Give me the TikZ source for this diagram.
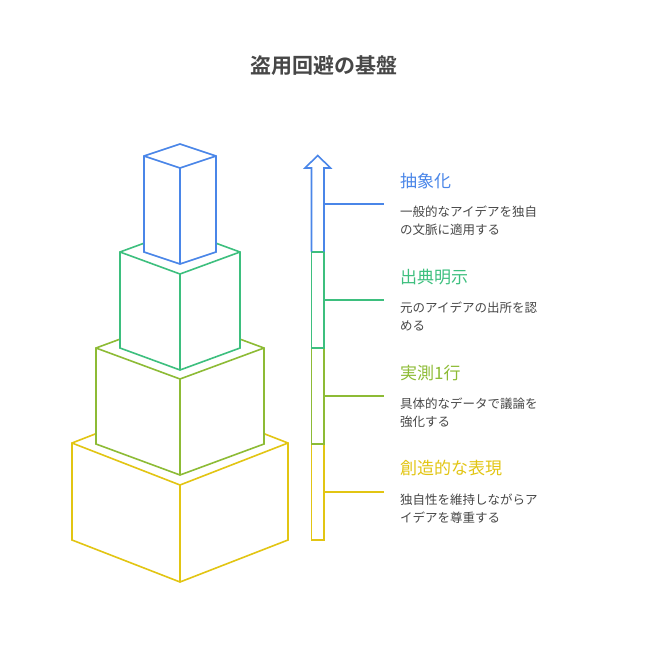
\documentclass[tikz,border=0pt]{standalone}
\usepackage{fontspec}
\setmainfont{Noto Sans CJK JP}[BoldFont={Noto Sans CJK JP Bold}]
\begin{document}
\begin{tikzpicture}[x=1pt,y=-1pt,line width=1.6pt,line join=miter,
  ttl/.style={anchor=west,font=\fontsize{17}{20}\selectfont},
  dsc/.style={anchor=north west,font=\fontsize{12.5}{18}\selectfont,text=black!72,align=left}]
\definecolor{cb}{HTML}{4A86E8}
\definecolor{cg}{HTML}{3DBF7E}
\definecolor{co}{HTML}{8DBB35}
\definecolor{cy}{HTML}{E2C513}
\useasboundingbox (0,0) rectangle (648,672);
\node[font=\bfseries\fontsize{21}{24}\selectfont,text=black!72] (title) at (324,66) {盗用回避の基盤};
% box macro via style-less drawing
\newcommand\isobox[5]{% color, halfwidth, depth, ytopleft, height
  \pgfmathsetmacro\xl{180-#2}\pgfmathsetmacro\xr{180+#2}
  \pgfmathsetmacro\yb{#4-#3}\pgfmathsetmacro\yf{#4+#3}
  \pgfmathsetmacro\ylb{#4+#5}\pgfmathsetmacro\yfb{#4+#3+#5}
  \filldraw[draw=#1,fill=white] (\xl,#4) -- (180,\yb) -- (\xr,#4) -- (\xr,\ylb) -- (180,\yfb) -- (\xl,\ylb) -- cycle;
  \draw[#1] (\xl,#4) -- (180,\yf) -- (\xr,#4) (180,\yf) -- (180,\yfb);}
\isobox{cy}{108}{42}{443}{97}
\isobox{co}{84}{31}{348}{96}
\isobox{cg}{60}{22}{252}{96}
\isobox{cb}{36}{12}{156}{96}
% arrow
\draw[cy] (311.5,443.7) rectangle (324,540);
\draw[co] (311.5,347.7) rectangle (324,443.7);
\draw[cg] (311.5,251.7) rectangle (324,347.7);
\draw[cb] (311.5,251.7) -- (311.5,168) -- (305,168) -- (317.75,155.5) -- (330.5,168) -- (324,168) -- (324,251.7);
\coordinate (t1) at (324,204); \coordinate (e1) at (384,204);
\coordinate (t2) at (324,300); \coordinate (e2) at (384,300);
\coordinate (t3) at (324,396); \coordinate (e3) at (384,396);
\coordinate (t4) at (324,492); \coordinate (e4) at (384,492);
\draw[cb,line width=1.3pt] (t1) -- (e1);
\draw[cg,line width=1.3pt] (t2) -- (e2);
\draw[co,line width=1.3pt] (t3) -- (e3);
\draw[cy,line width=1.3pt] (t4) -- (e4);
\node[ttl,text=cb] (h1) at (396,181) {抽象化};
\node[ttl,text=cg] (h2) at (396,277) {出典明示};
\node[ttl,text=co] (h3) at (396,373) {実測1行};
\node[ttl,text=cy] (h4) at (396,468) {創造的な表現};
\node[dsc] (d1) at (396,202) {一般的なアイデアを独自\\の文脈に適用する};
\node[dsc] (d2) at (396,298) {元のアイデアの出所を認\\める};
\node[dsc] (d3) at (396,394) {具体的なデータで議論を\\強化する};
\node[dsc] (d4) at (396,490) {独自性を維持しながらア\\イデアを尊重する};
\end{tikzpicture}
\end{document}
